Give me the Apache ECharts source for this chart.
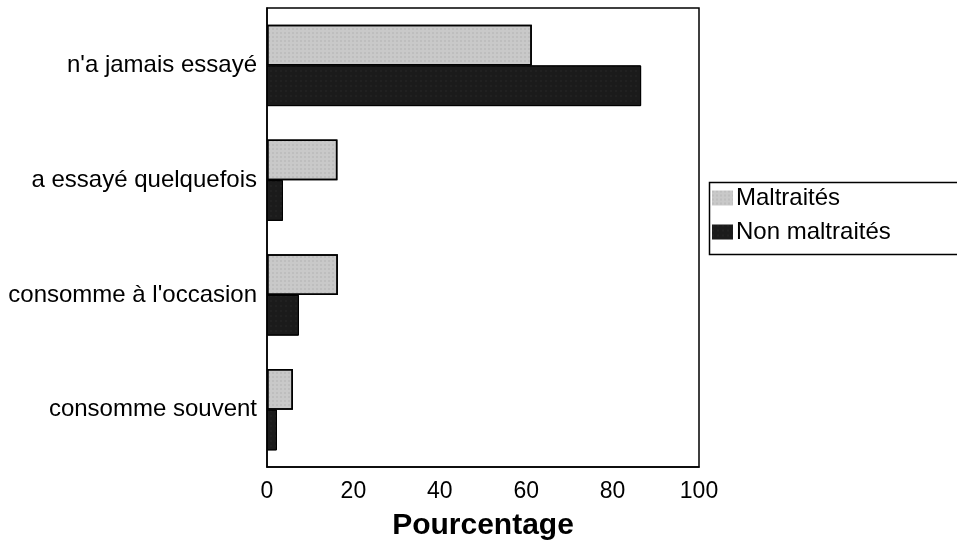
<!DOCTYPE html>
<html lang="fr">
<head>
    <meta charset="UTF-8">
    <title>Pourcentage</title>
    <script src="https://cdn.jsdelivr.net/npm/echarts@6/dist/echarts.min.js"></script>
</head>
<body style="margin:0;background:#fff">
<div id="main" style="width: 957px;height:546px;"></div>
<script>
    // données
    var categories = ["n'a jamais essayé", "a essayé quelquefois", "consomme à l'occasion", "consomme souvent"];
    var maltraites = [61.3, 16.3, 16.4, 6.0];
    var nonMaltraites = [86.6, 3.7, 7.4, 2.3];
    var xTicks = [0, 20, 40, 60, 80, 100];

    var myChart = echarts.init(document.getElementById('main'));
    var font = 'Liberation Sans, Arial, sans-serif';

    myChart.setOption({
        animation: false,
        textStyle: {fontFamily: font, color: '#000'},
        grid: {
            left: 267,
            right: 258,
            top: 8,
            bottom: 78,
            show: true,
            borderColor: '#000',
            borderWidth: 1.5
        },
        legend: {
            orient: 'vertical',
            left: 712,
            top: 186,
            padding: 0,
            itemWidth: 21,
            itemHeight: 15,
            itemGap: 10,
            icon: 'rect',
            itemStyle: {borderWidth: 0},
            textStyle: {fontSize: 24, color: '#000', fontFamily: font, padding: [0, 0, 0, -2]},
            data: ['Maltraités', 'Non maltraités']
        },
        graphic: [{
            type: 'rect',
            left: 707,
            top: 180,
            shape: {width: 260, height: 72},
            style: {fill: 'none', stroke: '#000', lineWidth: 1.5}
        }],
        xAxis: {
            type: 'value',
            min: 0,
            max: 100,
            interval: 20,
            name: 'Pourcentage',
            nameLocation: 'middle',
            nameGap: 44,
            nameTextStyle: {fontSize: 30, fontWeight: 'bold', color: '#000', fontFamily: font},
            axisLine: {show: true, lineStyle: {color: '#000', width: 1.5}},
            axisTick: {show: false},
            splitLine: {show: false},
            axisLabel: {
                fontSize: 23, color: '#000', margin: 13,
                formatter: function (v) { return xTicks.indexOf(v) >= 0 ? String(v) : ''; }
            }
        },
        yAxis: {
            type: 'category',
            inverse: true,
            data: categories,
            axisLine: {show: true, lineStyle: {color: '#000', width: 1.5}},
            axisTick: {show: false},
            axisLabel: {fontSize: 24, color: '#000', margin: 10}
        },
        series: [
            {
                name: 'Maltraités',
                type: 'bar',
                data: maltraites,
                barGap: '0%',
                barCategoryGap: '29%',
                itemStyle: {
                    color: '#c9c9c9',
                    borderColor: '#000',
                    borderWidth: 1.5,
                    decal: {symbol: 'rect', symbolSize: 0.5, color: 'rgba(90,90,90,0.35)', dashArrayX: [2, 2], dashArrayY: [2, 2], rotation: 0}
                }
            },
            {
                name: 'Non maltraités',
                type: 'bar',
                data: nonMaltraites,
                itemStyle: {
                    color: '#1b1b1b',
                    borderColor: '#000',
                    borderWidth: 1,
                    decal: {symbol: 'rect', symbolSize: 0.5, color: 'rgba(120,120,120,0.3)', dashArrayX: [2, 3], dashArrayY: [2, 3], rotation: 0}
                }
            }
        ]
    });
</script>
</body>
</html>
